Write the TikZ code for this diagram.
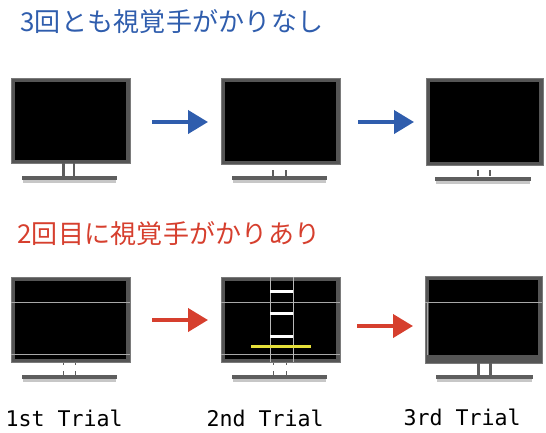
\documentclass[tikz,border=0pt]{standalone}
\usepackage{fontspec}
\newfontfamily\jpfont{Noto Sans CJK JP}
\newfontfamily\labelfont{DejaVu Sans Mono}
\usetikzlibrary{arrows.meta}

\definecolor{bezelgray}{HTML}{555555}
\definecolor{bezeledge}{HTML}{7A7A7A}
\definecolor{standgray}{HTML}{5E5E5E}
\definecolor{glaregray}{HTML}{A8A8A8}
\definecolor{flowblue}{HTML}{2F5DAD}
\definecolor{flowred}{HTML}{D63F2E}
\definecolor{baryellow}{HTML}{E6E03A}

\tikzset{
  bezel/.style={fill=bezelgray, draw=bezeledge, line width=0.7pt, inner sep=0pt, outer sep=0pt},
  panel/.style={fill=black},
  standpart/.style={fill=standgray},
  standshadow/.style={fill=black!22},
  glare/.style={draw=glaregray, line width=0.8pt},
  blueflow/.style={draw=flowblue, line width=4pt, -{Triangle[length=20pt,width=23pt]}},
  redflow/.style={draw=flowred, line width=4pt, -{Triangle[length=20pt,width=23pt]}},
  headline/.style={anchor=base west, inner sep=0pt, font=\jpfont\fontsize{26}{30}\selectfont\addfontfeatures{LetterSpace=1}},
  triallabel/.style={anchor=base west, inner sep=0pt, font=\labelfont\fontsize{21.6}{24}\selectfont},
  rung/.style={draw=white, line width=3pt},
  rail/.style={draw=glaregray!80!white, line width=1pt}
}

\begin{document}
\begin{tikzpicture}[x=1pt,y=-1pt]
\useasboundingbox (0,0) rectangle (546,432);

% ---------- headings ----------
\node[headline, text=flowblue] (hnone) at (20,31) {3回とも視覚手がかりなし};
\node[headline, text=flowred] (hcue) at (17,243) {2回目に視覚手がかりあり};

% ---------- row 1: no cue ----------
% monitor A
\node[bezel, minimum width=119pt, minimum height=85pt] (ta) at (70.5,120.5) {};
\fill[panel] ([shift={(4,4)}]ta.north west) rectangle ([shift={(-4,-3)}]ta.south east);
\fill[standpart] (62,163) rectangle (64.5,176);
\fill[standpart] (72.5,163) rectangle (75,176);
\fill[standshadow] (23,180) rectangle (116,182.5);
\fill[standpart] (22,176) rectangle (117,180);

% monitor B
\node[bezel, minimum width=119pt, minimum height=86pt] (tb) at (280.5,121) {};
\fill[panel] ([shift={(4,4)}]tb.north west) rectangle ([shift={(-4,-3)}]tb.south east);
\fill[standpart] (272,169.5) rectangle (273.6,175.5);
\fill[standpart] (285,169.5) rectangle (286.6,175.5);
\fill[standshadow] (233,180) rectangle (326,182.5);
\fill[standpart] (232,176) rectangle (327,180);

% monitor C
\node[bezel, minimum width=117pt, minimum height=87pt] (tc) at (484.5,121.5) {};
\fill[panel] ([shift={(4,4)}]tc.north west) rectangle ([shift={(-4,-3)}]tc.south east);
\fill[standpart] (477,169.5) rectangle (478.6,176);
\fill[standpart] (489,169.5) rectangle (490.6,176);
\fill[standshadow] (436,181) rectangle (530,183.5);
\fill[standpart] (435,177) rectangle (531,181);

\coordinate (ta1) at (152,122);
\coordinate (ta2) at (208,122);
\coordinate (tb1) at (358,122);
\coordinate (tb2) at (414,122);
\draw[blueflow] (ta1) -- (ta2);
\draw[blueflow] (tb1) -- (tb2);

% ---------- row 2: cue on the second trial ----------
% monitor A
\node[bezel, minimum width=119pt, minimum height=85pt] (ba) at (70.5,319.5) {};
\fill[panel] ([shift={(4,4)}]ba.north west) rectangle ([shift={(-4,-3)}]ba.south east);
\draw[glare] (ba.west |- 0,302) -- (ba.east |- 0,302);
\draw[glare] (ba.west |- 0,354) -- (ba.east |- 0,354);
\fill[standpart] (62.5,363) rectangle (64,364.5);
\fill[standpart] (74.5,363) rectangle (76,364.5);
\fill[standpart] (62.5,370.5) rectangle (64,375);
\fill[standpart] (74.5,370.5) rectangle (76,375);
\fill[standshadow] (23,379) rectangle (116,381.5);
\fill[standpart] (22,375) rectangle (117,379);

% monitor B with ladder and yellow bar
\node[bezel, minimum width=119pt, minimum height=85pt] (bb) at (280.5,319.5) {};
\fill[panel] ([shift={(4,4)}]bb.north west) rectangle ([shift={(-4,-3)}]bb.south east);
\draw[glare] (bb.west |- 0,302) -- (bb.east |- 0,302);
\draw[glare] (bb.west |- 0,354) -- (bb.east |- 0,354);
\draw[rail] (270,277) -- (270,362);
\draw[rail] (293,277) -- (293,362);
\draw[rung] (270,291) -- (293,291);
\draw[rung] (270,313) -- (293,313);
\draw[rung] (270,336) -- (293,336);
\fill[baryellow] (251,344.5) rectangle (311,348);
\fill[standpart] (272.5,363) rectangle (274,364.5);
\fill[standpart] (285.5,363) rectangle (287,364.5);
\fill[standpart] (272.5,370.5) rectangle (274,375);
\fill[standpart] (285.5,370.5) rectangle (287,375);
\fill[standshadow] (233,379) rectangle (326,381.5);
\fill[standpart] (232,375) rectangle (327,379);

% monitor C
\node[bezel, minimum width=117pt, minimum height=87pt] (bc) at (483.5,319.5) {};
\fill[panel] ([shift={(4,4)}]bc.north west) rectangle ([shift={(-4,-8)}]bc.south east);
\draw[glare] (bc.west |- 0,302) -- (bc.east |- 0,302);
\draw[glare] (427,302) -- (427,355);
\fill[standpart] (477,363) rectangle (479.5,375);
\fill[standpart] (489,363) rectangle (491.5,375);
\fill[standshadow] (437,379) rectangle (532,381.5);
\fill[standpart] (436,375) rectangle (533,379);

\coordinate (ba1) at (152,320);
\coordinate (ba2) at (208,320);
\coordinate (bb1) at (357,326);
\coordinate (bb2) at (413,326);
\draw[redflow] (ba1) -- (ba2);
\draw[redflow] (bb1) -- (bb2);

% ---------- trial labels ----------
\node[triallabel] (l1) at (5.5,426.5) {1st Trial};
\node[triallabel] (l2) at (206.5,426.5) {2nd Trial};
\node[triallabel] (l3) at (403.5,425) {3rd Trial};
\end{tikzpicture}
\end{document}
